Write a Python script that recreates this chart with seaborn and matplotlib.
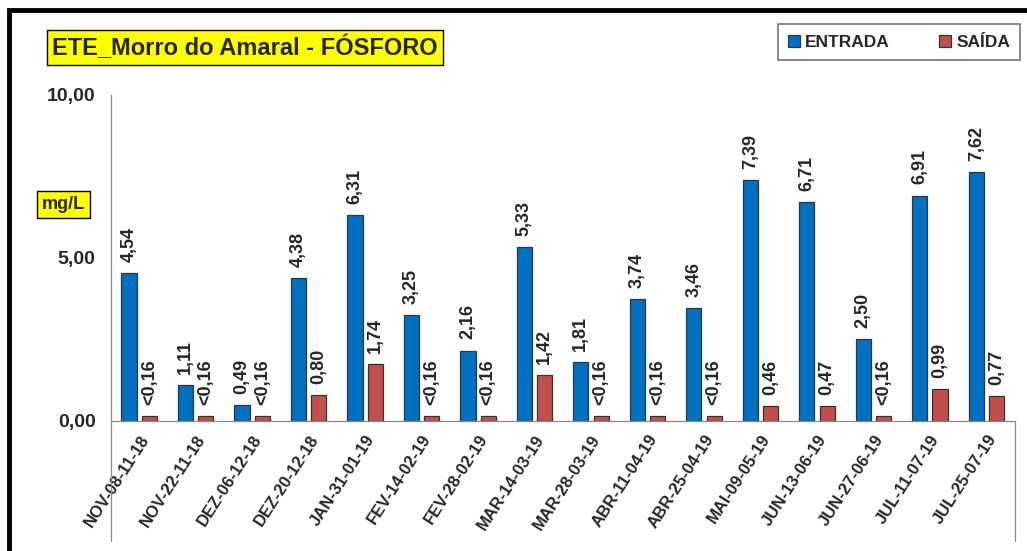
import matplotlib
matplotlib.use("Agg")
import matplotlib.pyplot as plt
from matplotlib.lines import Line2D
from matplotlib.patches import Rectangle
import pandas as pd
import seaborn as sns

# dados
datas = ["NOV-08-11-18", "NOV-22-11-18", "DEZ-06-12-18", "DEZ-20-12-18",
         "JAN-31-01-19", "FEV-14-02-19", "FEV-28-02-19", "MAR-14-03-19",
         "MAR-28-03-19", "ABR-11-04-19", "ABR-25-04-19", "MAI-09-05-19",
         "JUN-13-06-19", "JUN-27-06-19", "JUL-11-07-19", "JUL-25-07-19"]
entrada = [4.54, 1.11, 0.49, 4.38, 6.31, 3.25, 2.16, 5.33,
           1.81, 3.74, 3.46, 7.39, 6.71, 2.50, 6.91, 7.62]
saida = [0.16, 0.16, 0.16, 0.80, 1.74, 0.16, 0.16, 1.42,
         0.16, 0.16, 0.16, 0.46, 0.47, 0.16, 0.99, 0.77]
saida_rotulos = ["<0,16", "<0,16", "<0,16", "0,80", "1,74", "<0,16", "<0,16", "1,42",
                 "<0,16", "<0,16", "<0,16", "0,46", "0,47", "<0,16", "0,99", "0,77"]
series = ["ENTRADA", "SAÍDA"]
cores = ["#0070C0", "#C0504D"]

df = pd.DataFrame({
    "data": datas * 2,
    "valor": entrada + saida,
    "serie": [series[0]] * len(datas) + [series[1]] * len(datas),
})

sns.set_style("white")
plt.rcParams["font.family"] = ["Liberation Sans", "DejaVu Sans"]
plt.rcParams["font.weight"] = "bold"

fig = plt.figure(figsize=(10.27, 5.51), dpi=100)
ax = fig.add_axes([0.108, 0.236, 0.880, 0.592])

sns.barplot(data=df, x="data", y="valor", hue="serie", palette=cores,
            saturation=1, width=0.72, gap=0.25, edgecolor="#333333",
            linewidth=0.9, ax=ax, legend=True)

# rotulos dos valores
rotulos = [f"{v:.2f}".replace(".", ",") for v in entrada] + saida_rotulos
for cont, labs in zip(ax.containers, [rotulos[:16], rotulos[16:]]):
    ax.bar_label(cont, labels=labs, rotation=90, padding=8,
                 fontsize=13, fontweight="bold")

ax.set_ylim(0, 10)
ax.set_yticks([0, 5, 10])
ax.set_yticklabels(["0,00", "5,00", "10,00"], fontsize=14, fontweight="bold")
ax.set_xlim(-0.5, len(datas) - 0.5)
ax.set_xlabel("")
ax.set_ylabel("")
ax.tick_params(axis="y", length=5, width=0.8, color="#888888", pad=6)
ax.tick_params(axis="x", length=0, pad=8)
plt.setp(ax.get_xticklabels(), rotation=57, ha="right", rotation_mode="anchor",
         fontsize=12, fontweight="bold")

for s in ["top", "right"]:
    ax.spines[s].set_visible(False)
for s in ["left", "bottom"]:
    ax.spines[s].set_color("#888888")
    ax.spines[s].set_linewidth(0.9)

# legenda
leg = ax.legend(loc="upper right", ncol=2, frameon=True,
                fancybox=False, edgecolor="#555555", handlelength=0.7,
                handleheight=0.7, handletextpad=0.3, columnspacing=2.8,
                borderpad=0.6, prop={"weight": "bold", "size": 12.5})
leg.get_frame().set_linewidth(1.2)
leg.set_bbox_to_anchor((1.002, 0.972), transform=fig.transFigure)

# titulo e unidade
fig.text(0.051, 0.914, "ETE_Morro do Amaral - FÓSFORO", fontsize=17,
         fontweight="bold", va="center", ha="left",
         bbox=dict(boxstyle="square,pad=0.22", facecolor="#FFFF00",
                   edgecolor="black", linewidth=1.0))
fig.text(0.041, 0.629, "mg/L", fontsize=13, fontweight="bold",
         va="center", ha="left",
         bbox=dict(boxstyle="square,pad=0.28", facecolor="#FFFF00",
                   edgecolor="black", linewidth=1.0))

# linhas da area de categorias e moldura
fig.add_artist(Line2D([0.108, 0.108], [0.018, 0.236], color="#888888", lw=0.9))
fig.add_artist(Line2D([0.988, 0.988], [0.018, 0.236], color="#888888", lw=0.9))
fig.add_artist(Rectangle((0.009, -0.1), 1.2, 1.081, transform=fig.transFigure,
                         fill=False, edgecolor="black", linewidth=3.5))

fig.savefig("out.png", dpi=100)
